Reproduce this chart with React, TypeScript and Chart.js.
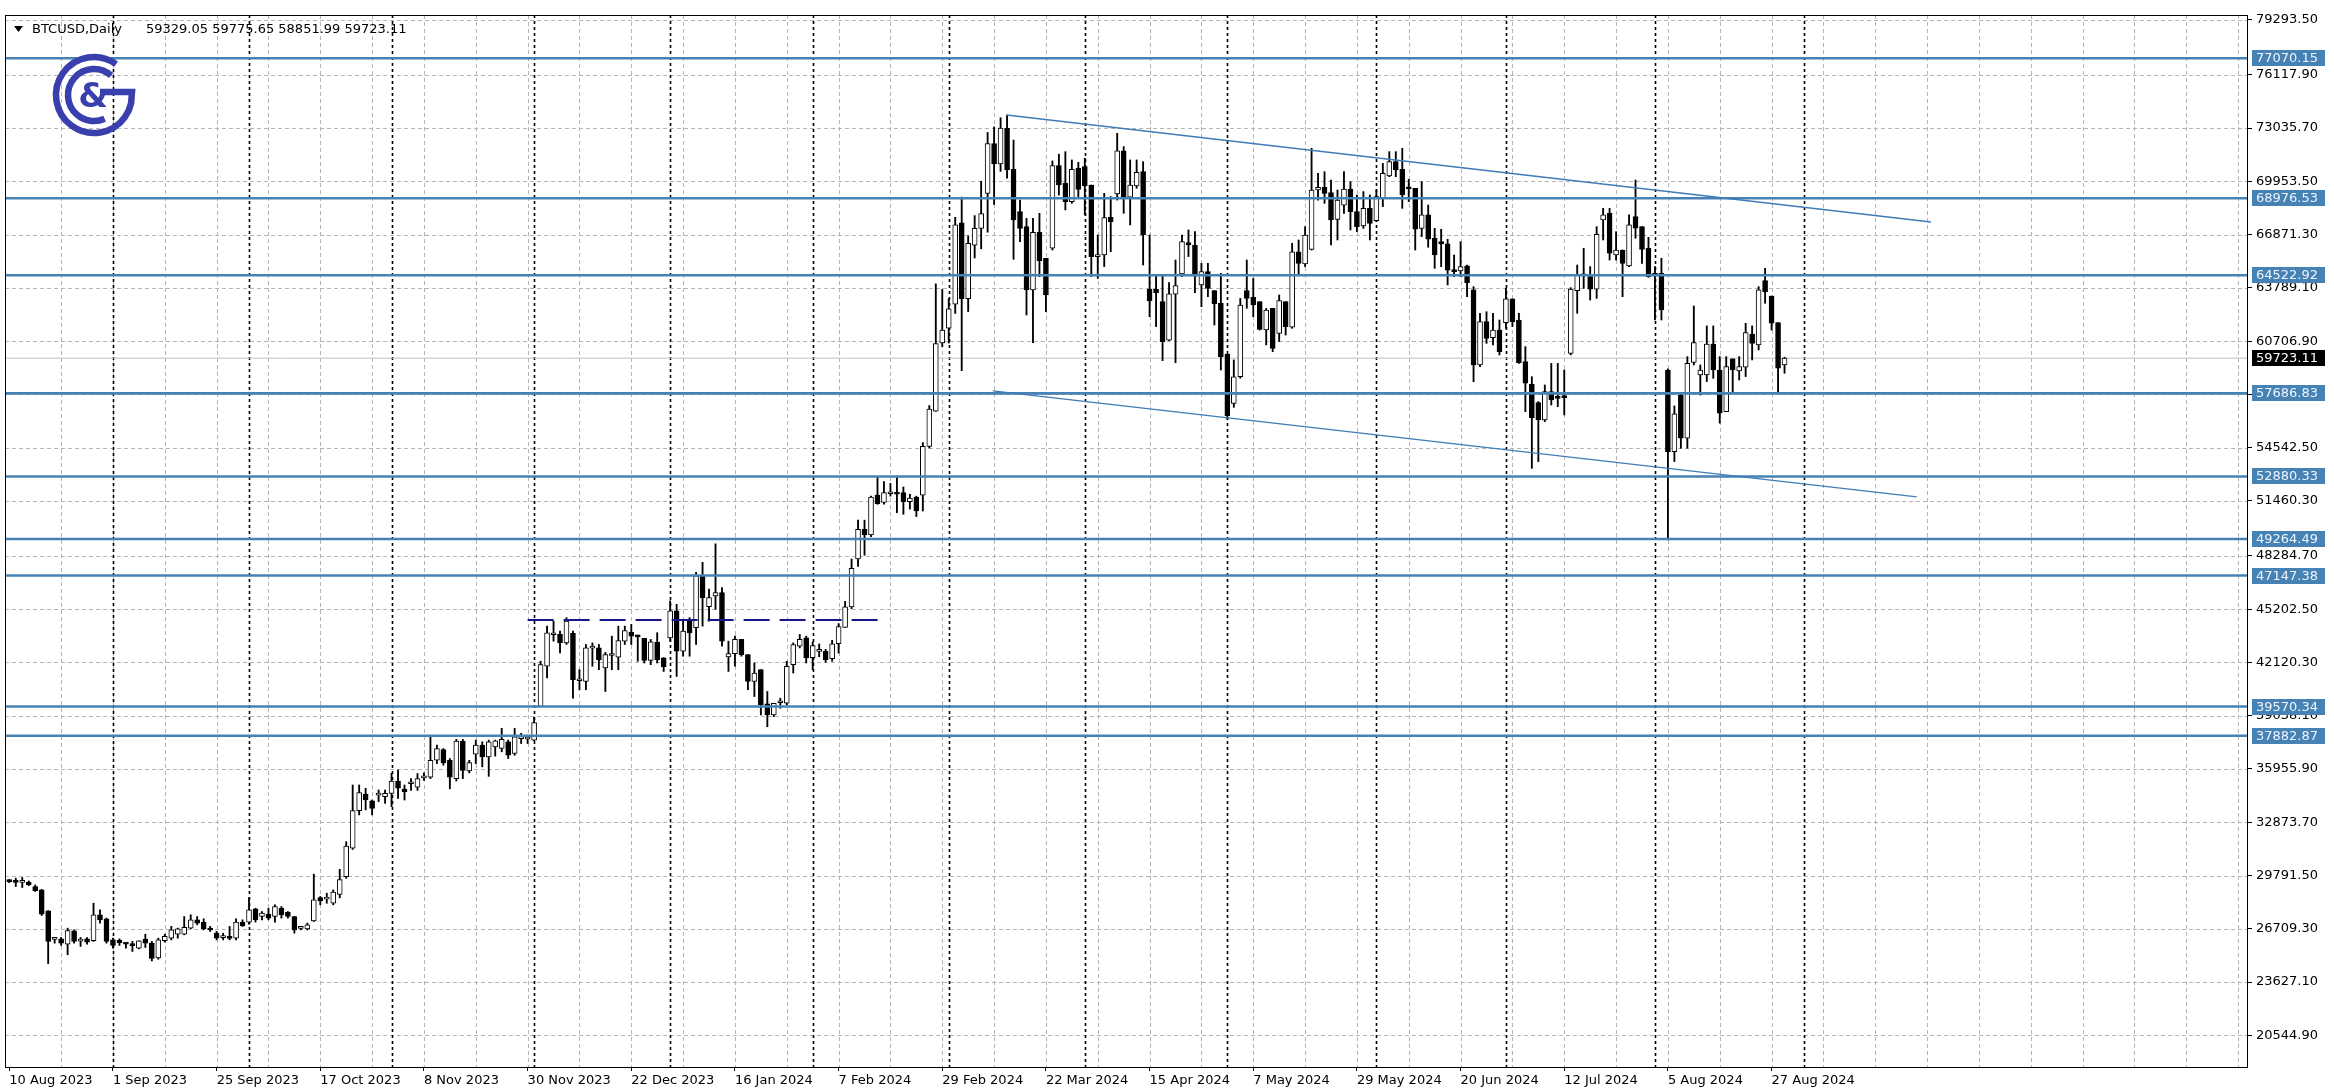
import { useEffect, useRef } from 'react';
import { Chart, registerables } from 'chart.js';

Chart.register(...registerables);

// ---------- data (daily BTCUSD bars, weekdays only, 10 Aug 2023 .. 29 Aug 2024) ----------
const OPEN = [
  29460, 29420, 29400, 29410, 29160, 28960, 27750, 26100, 26130, 25820,
  26590, 26000, 26130, 26020, 27520, 27290, 26070, 26050, 25840, 25760,
  25590, 26110, 25880, 25020, 26020, 26170, 26400, 26400, 26750, 27230,
  27100, 26660, 26460, 26200, 26180, 26170, 27080, 27100, 27870, 27420,
  27560, 27420, 27900, 27670, 27420, 26740, 26710, 27170, 28520, 28430,
  28190, 28700, 29730, 31370, 33550, 34510, 34120, 34440, 34360, 34550,
  35260, 34800, 35100, 34910, 35440, 35490, 36460, 37080, 36460, 35400,
  37570, 35840, 36810, 37340, 36660, 37240, 37140, 37530, 36850, 37710,
  37680, 37630, 39570, 41900, 43720, 43740, 43250, 43800, 41060, 41020,
  42950, 42960, 41800, 42520, 42420, 43350, 43870, 43680, 43510, 42230,
  43290, 42380, 43540, 45100, 42770, 44510, 44130, 47130, 45350, 45970,
  46160, 42440, 42630, 43450, 42570, 41020, 41700, 39720, 39080, 39790,
  39760, 41990, 43060, 43540, 42400, 42760, 42770, 42340, 43200, 44150,
  45330, 48110, 49820, 49500, 51800, 51380, 51880, 51950, 51950, 51420,
  51680, 51800, 54620, 56650, 60600, 61460, 62850, 67550, 63170, 66260,
  67230, 69250, 72140, 70960, 73020, 70650, 68200, 67330, 63670, 67000,
  65500, 66080, 70860, 69840, 68780, 70710, 70800, 69740, 65600, 65690,
  67870, 69220, 71710, 69030, 69680, 70510, 63720, 63710, 62990, 60770,
  63420, 64590, 66410, 66270, 63960, 64730, 63630, 62900, 59960, 57110,
  58650, 63630, 63240, 62990, 61350, 62610, 61160, 62990, 61510, 65880,
  65170, 66020, 69450, 69610, 69300, 67750, 68580, 69510, 68200, 67370,
  68390, 67680, 68970, 70260, 71090, 70650, 69640, 69550, 67230, 68010,
  66660, 66460, 66330, 64820, 64770, 65060, 63670, 59330, 61840, 60910,
  61350, 61780, 63150, 61930, 59520, 58210, 57150, 56150, 57790, 57500,
  57540, 60000, 63630, 64530, 64440, 63720, 67720, 68100, 65690, 65980,
  65060, 67910, 67330, 66080, 64480, 64630, 59040, 54320, 57590, 55090,
  59470, 58750, 58750, 60540, 59040, 56630, 59680, 58990, 59200, 61120,
  60490, 64210, 63320, 61780, 59329.05,
];
const HIGH = [
  29560, 29640, 29680, 29480, 29250, 28990, 27760, 26210, 26210, 26750,
  26650, 26210, 26210, 28190, 27810, 27330, 26170, 26130, 25880, 25980,
  26020, 26400, 25980, 26170, 26400, 26850, 26750, 27420, 27520, 27420,
  27290, 26850, 26560, 26460, 26850, 27290, 27230, 28520, 27900, 27710,
  27900, 28100, 28000, 27710, 27430, 26850, 27040, 29870, 28580, 28770,
  28960, 30150, 31750, 35030, 35030, 34840, 34160, 34740, 34740, 35710,
  35900, 35030, 35400, 35690, 35730, 37820, 37340, 37140, 36560, 37670,
  37670, 36460, 37630, 37530, 37630, 37630, 38310, 37630, 38310, 38020,
  37860, 38950, 42190, 44220, 44510, 43930, 44710, 43930, 41700, 43160,
  43250, 43160, 42700, 43640, 44220, 44220, 44320, 43700, 43510, 43450,
  43840, 42400, 45680, 45480, 44570, 44710, 47330, 47910, 46360, 48980,
  46450, 43350, 43640, 43450, 42570, 42090, 41700, 40440, 39760, 40050,
  42190, 43250, 43740, 43640, 43300, 43190, 42880, 43400, 44370, 45650,
  48100, 50350, 50350, 51740, 52870, 52590, 52480, 52900, 52270, 51850,
  51740, 54840, 56980, 64020, 63700, 63160, 67870, 69040, 66800, 67970,
  69960, 72780, 73100, 73630, 73790, 72340, 68870, 67810, 67810, 68100,
  65500, 71130, 71520, 71670, 71190, 71050, 71280, 69740, 66850, 69260,
  69070, 72730, 71960, 71190, 71190, 71090, 66850, 64530, 64480, 64090,
  65400, 66850, 67140, 67040, 65210, 65210, 63630, 64630, 59960, 59620,
  63180, 65400, 64340, 62990, 62600, 62610, 63380, 62990, 66370, 66560,
  67330, 71860, 70420, 70510, 70030, 69450, 70510, 69930, 69160, 69360,
  69160, 69450, 70990, 71670, 71670, 71860, 70070, 69550, 69930, 68580,
  67230, 67180, 66600, 65690, 66460, 65110, 63860, 62320, 62410, 62320,
  61930, 63760, 63150, 62320, 60390, 58650, 57210, 58170, 59420, 59420,
  59040, 63800, 65110, 66080, 65020, 67330, 68390, 68390, 67040, 65980,
  68010, 70030, 67330, 66710, 65020, 65500, 59100, 56960, 57690, 59810,
  62740, 59330, 61590, 61590, 59810, 59810, 59680, 59810, 61740, 61590,
  63860, 64920, 63320, 61780, 59775.65,
];
const LOW = [
  29380, 29160, 29100, 29210, 28870, 27480, 24700, 25880, 25750, 25210,
  25880, 25690, 25820, 25980, 27040, 25880, 25590, 25750, 25590, 25400,
  25550, 25630, 24850, 24950, 25940, 26070, 26170, 26360, 26710, 26940,
  26650, 26560, 26070, 26070, 26070, 26070, 26850, 26980, 27100, 27230,
  27230, 27100, 27330, 27330, 26460, 26650, 26650, 27130, 28100, 28190,
  28100, 28500, 29630, 31300, 33300, 33590, 33300, 34070, 33970, 33780,
  34260, 34160, 34720, 34720, 35300, 35400, 36270, 36170, 34810, 35260,
  35400, 35730, 36270, 36080, 35530, 36700, 36950, 36560, 36750, 37430,
  37430, 37590, 39570, 41220, 43350, 42670, 43160, 40050, 40540, 40540,
  41900, 41700, 40440, 41700, 41700, 43160, 43160, 42190, 42090, 41990,
  42090, 41600, 43350, 41310, 42480, 42480, 43160, 44220, 44510, 45190,
  43060, 41600, 41900, 42480, 40540, 40150, 39080, 38400, 38990, 39470,
  39660, 41510, 42960, 42090, 41700, 42450, 42130, 42190, 42660, 44150,
  45230, 47680, 48320, 49390, 51270, 51270, 51740, 50780, 50690, 50990,
  50560, 50880, 54520, 56650, 60390, 60600, 62310, 59000, 62420, 65520,
  66050, 67010, 68610, 70530, 70130, 65440, 66460, 62220, 60620, 64440,
  62410, 65980, 69160, 68300, 68680, 69070, 68010, 64440, 64340, 65020,
  65880, 68870, 68100, 67430, 69550, 65110, 62120, 61550, 59580, 60740,
  59460, 64440, 65600, 63510, 62700, 63280, 61640, 59040, 56200, 56880,
  58560, 62610, 62120, 61350, 60490, 60100, 60680, 61060, 61450, 64530,
  65020, 65980, 68870, 68680, 66270, 66560, 68100, 67140, 67040, 67230,
  66560, 67620, 68490, 70220, 70220, 68390, 68780, 65980, 66750, 66140,
  64920, 65020, 63960, 64440, 64440, 63280, 58360, 59230, 60580, 60490,
  59910, 61450, 61550, 59420, 56630, 53350, 53740, 56050, 57010, 56920,
  56440, 59910, 62320, 63760, 63090, 63180, 66560, 65400, 65400, 63280,
  65020, 66660, 65210, 64400, 61930, 61930, 49210, 53740, 54510, 54510,
  59330, 57590, 58370, 58560, 55960, 56630, 57690, 58460, 58660, 59620,
  60200, 62900, 61350, 57790, 58851.99,
];
const CLOSE = [
  29440, 29400, 29410, 29250, 28910, 27560, 25980, 26120, 25880, 26610,
  25980, 26030, 25940, 27520, 27230, 25980, 25750, 25900, 25820, 25740,
  26020, 25880, 25000, 26070, 26270, 26650, 26710, 26790, 27230, 27040,
  26710, 26640, 26170, 26220, 26160, 27100, 26880, 27810, 27230, 27620,
  27330, 28000, 27520, 27420, 26650, 26760, 26940, 28390, 28330, 28450,
  28830, 29560, 31500, 33550, 34590, 34160, 33680, 34460, 34550, 35260,
  34840, 34650, 35110, 35400, 35460, 36460, 37140, 36310, 35490, 37570,
  35880, 36330, 37340, 36660, 37530, 37590, 37670, 36750, 37820, 37740,
  37690, 38640, 41990, 43840, 43750, 43250, 44510, 41120, 41090, 42960,
  42970, 42280, 42570, 42530, 43390, 43970, 43640, 43600, 42230, 43310,
  42280, 41860, 45100, 42770, 43930, 43840, 47130, 45870, 45870, 46160,
  43350, 42630, 43450, 42570, 41020, 41510, 39660, 39080, 39760, 39810,
  41900, 43160, 43450, 42380, 43090, 42770, 42280, 43200, 44200, 45330,
  47570, 49820, 49500, 51680, 51310, 51950, 51900, 51850, 51420, 51630,
  50890, 54620, 56770, 60560, 61350, 62570, 67440, 63170, 66370, 67230,
  68080, 72140, 70960, 73040, 70610, 67720, 67230, 63670, 67000, 65360,
  63380, 70860, 69740, 68780, 70650, 69490, 69680, 65600, 65690, 67850,
  67620, 71710, 69010, 69740, 70470, 66850, 63030, 63510, 60680, 63440,
  63920, 66460, 66270, 64480, 64730, 63760, 62860, 59810, 56400, 58650,
  62800, 63180, 62800, 61390, 62510, 60290, 63050, 61550, 65880, 65210,
  66850, 69450, 69610, 69260, 67720, 68870, 69510, 68200, 67330, 68390,
  67520, 69070, 70420, 71090, 70610, 69160, 69510, 67180, 68010, 66600,
  65690, 66330, 64820, 64730, 65020, 64090, 59330, 61840, 60870, 61350,
  60100, 63150, 61840, 59460, 58270, 56280, 56150, 57790, 57300, 57400,
  57440, 63720, 64530, 64480, 63720, 66890, 68010, 65790, 65980, 65210,
  67430, 67240, 66020, 64440, 64630, 62510, 54320, 56500, 55090, 59430,
  60620, 59040, 60540, 59040, 56540, 59230, 59040, 59230, 61200, 60580,
  63670, 63570, 61740, 59140, 59723.11,
];

// x-axis labels, one every LABEL_STEP bars starting at bar 0
const X_LABELS = [
  '10 Aug 2023', '1 Sep 2023', '25 Sep 2023', '17 Oct 2023', '8 Nov 2023', '30 Nov 2023',
  '22 Dec 2023', '16 Jan 2024', '7 Feb 2024', '29 Feb 2024', '22 Mar 2024', '15 Apr 2024',
  '7 May 2024', '29 May 2024', '20 Jun 2024', '12 Jul 2024', '5 Aug 2024', '27 Aug 2024',
];
const LABEL_STEP = 16;
const GRID_STEP = 8;
// first bar of each month (period separators)
const MONTH_STARTS = [16, 37, 59, 81, 102, 124, 145, 166, 188, 211, 231, 254, 277];

const Y_TICKS = [
  79293.5, 76117.9, 73035.7, 69953.5, 66871.3, 63789.1, 60706.9, 57624.7, 54542.5, 51460.3,
  48284.7, 45202.5, 42120.3, 39038.1, 35955.9, 32873.7, 29791.5, 26709.3, 23627.1, 20544.9,
];

const LEVELS = [77070.15, 68976.53, 64522.92, 57686.83, 52880.33, 49264.49, 47147.38, 39570.34, 37882.87];
const LAST_PRICE = 59723.11;
const UPPER_CHANNEL = [{ x: 153.9, y: 73790 }, { x: 296.6, y: 67600 }];
const LOWER_CHANNEL = [{ x: 151.8, y: 57830 }, { x: 294.4, y: 51700 }];
const RANGE_TOP = [{ x: 80, y: 44570 }, { x: 135, y: 44570 }];

const SYMBOL = 'BTCUSD,Daily';
const HEADER_VALUES = '59329.05 59775.65 58851.99 59723.11';

// ---------- layout / style ----------
const W = 2334;
const H = 1089;
const PLOT_LEFT = 5;
const PLOT_TOP = 15;
const PLOT_RIGHT = 2247;
const PLOT_BOTTOM = 1067;
const X_MIN = -0.664;
const X_MAX = 345.38;
const Y_MAX = 79575;
const Y_MIN = 18716;
const BLUE = '#4682b4';
const FONT = '"DejaVu Sans", "Liberation Sans", sans-serif';

function drawLogo(ctx: CanvasRenderingContext2D) {
  const cx = 94;
  const cy = 95;
  const col = '#3a3fae';
  ctx.save();
  ctx.strokeStyle = col;
  ctx.fillStyle = col;
  ctx.lineWidth = 6.5;
  ctx.beginPath();
  ctx.arc(cx, cy, 38, -0.95, 0.22, true);
  ctx.lineTo(cx + 38, cy - 3);
  ctx.lineTo(cx + 6, cy - 3);
  ctx.stroke();
  ctx.beginPath();
  ctx.arc(cx, cy, 26, -0.85, 1.15, true);
  ctx.stroke();
  ctx.font = 'bold 34px ' + FONT;
  ctx.textAlign = 'center';
  ctx.textBaseline = 'middle';
  ctx.fillText('&', cx - 1, cy + 3);
  ctx.restore();
}

const overlay = {
  id: 'overlay',
  beforeDatasetsDraw(chart: any) {
    const { ctx, chartArea: a, scales } = chart;
    const x = scales.x;
    const y = scales.y;
    ctx.save();
    ctx.beginPath();
    ctx.rect(a.left, a.top, a.right - a.left, a.bottom - a.top);
    ctx.clip();
    ctx.lineWidth = 1;
    ctx.strokeStyle = '#b4b4b4';
    ctx.setLineDash([4, 3]);
    for (const v of Y_TICKS) {
      const py = Math.round(y.getPixelForValue(v)) + 0.5;
      ctx.beginPath();
      ctx.moveTo(a.left, py);
      ctx.lineTo(a.right, py);
      ctx.stroke();
    }
    for (let i = GRID_STEP; i <= X_MAX; i += GRID_STEP) {
      const px = Math.round(x.getPixelForValue(i)) + 0.5;
      ctx.beginPath();
      ctx.moveTo(px, a.top);
      ctx.lineTo(px, a.bottom);
      ctx.stroke();
    }
    ctx.strokeStyle = '#000';
    ctx.lineWidth = 1.6;
    ctx.setLineDash([3, 3]);
    for (const i of MONTH_STARTS) {
      const px = Math.round(x.getPixelForValue(i)) + 0.5;
      ctx.beginPath();
      ctx.moveTo(px, a.top);
      ctx.lineTo(px, a.bottom);
      ctx.stroke();
    }
    ctx.restore();
  },
  afterDraw(chart: any) {
    const { ctx, chartArea: a, scales } = chart;
    const y = scales.y;
    ctx.save();
    // frame
    ctx.strokeStyle = '#000';
    ctx.lineWidth = 1;
    ctx.strokeRect(a.left + 0.5, a.top + 0.5, a.right - a.left, a.bottom - a.top);
    // price boxes
    ctx.font = '13px ' + FONT;
    ctx.textBaseline = 'middle';
    ctx.textAlign = 'left';
    for (const v of LEVELS) {
      const py = Math.round(y.getPixelForValue(v));
      ctx.fillStyle = BLUE;
      ctx.fillRect(a.right + 5, py - 8, 73, 16);
      ctx.fillStyle = '#eef4ff';
      ctx.fillText(v.toFixed(2), a.right + 9, py + 1);
    }
    const lp = Math.round(y.getPixelForValue(LAST_PRICE));
    ctx.fillStyle = '#000';
    ctx.fillRect(a.right + 5, lp - 8, 73, 16);
    ctx.fillStyle = '#fff';
    ctx.fillText(LAST_PRICE.toFixed(2), a.right + 9, lp + 1);
    // header
    ctx.fillStyle = '#000';
    ctx.beginPath();
    ctx.moveTo(14, 26);
    ctx.lineTo(23, 26);
    ctx.lineTo(18.5, 32);
    ctx.closePath();
    ctx.fill();
    ctx.fillText(SYMBOL, 32, 30);
    ctx.fillText(HEADER_VALUES, 146, 30);
    ctx.restore();
    drawLogo(ctx);
  },
};

export default function App() {
  const ref = useRef<HTMLCanvasElement>(null);
  useEffect(() => {
    const canvas = ref.current;
    if (!canvas) return;
    const bodies = OPEN.map((o, i) => ({ x: i, y: [Math.min(o, CLOSE[i]), Math.max(o, CLOSE[i])] }));
    const wicks = OPEN.map((_, i) => ({ x: i, y: [LOW[i], HIGH[i]] }));
    const bodyFill = OPEN.map((o, i) => (CLOSE[i] >= o ? '#ffffff' : '#000000'));
    const levelSets = LEVELS.map((v) => ({
      type: 'line',
      data: [{ x: X_MIN, y: v }, { x: X_MAX, y: v }],
      borderColor: BLUE,
      borderWidth: 2.6,
      pointRadius: 0,
      order: -1,
    }));
    const chart = new Chart(canvas, {
      type: 'bar',
      data: {
        datasets: [
          {
            type: 'line',
            data: [{ x: X_MIN, y: LAST_PRICE }, { x: X_MAX, y: LAST_PRICE }],
            borderColor: '#c0c0c0',
            borderWidth: 1,
            pointRadius: 0,
            order: 5,
          },
          {
            data: wicks,
            backgroundColor: '#000',
            borderWidth: 0,
            barThickness: 1.2,
            grouped: false,
            minBarLength: 1,
            order: 2,
          },
          {
            data: bodies,
            backgroundColor: bodyFill,
            borderColor: '#000',
            borderWidth: 1,
            borderSkipped: false,
            barThickness: 5,
            grouped: false,
            minBarLength: 2,
            order: 1,
          },
          ...levelSets,
          {
            type: 'line',
            data: UPPER_CHANNEL,
            borderColor: '#3f7bb5',
            borderWidth: 1.3,
            pointRadius: 0,
            order: -2,
          },
          {
            type: 'line',
            data: LOWER_CHANNEL,
            borderColor: '#3f7bb5',
            borderWidth: 1.3,
            pointRadius: 0,
            order: -2,
          },
          {
            type: 'line',
            data: RANGE_TOP,
            borderColor: '#16168c',
            borderWidth: 2,
            borderDash: [26, 10],
            pointRadius: 0,
            order: -2,
          },
        ] as any,
      },
      options: {
        responsive: false,
        animation: false,
        devicePixelRatio: 1,
        events: [],
        layout: { padding: { left: PLOT_LEFT, top: PLOT_TOP, right: 0, bottom: 0 } },
        plugins: { legend: { display: false }, tooltip: { enabled: false } },
        scales: {
          x: {
            type: 'linear',
            min: X_MIN,
            max: X_MAX,
            offset: false,
            afterBuildTicks: (s: any) => {
              s.ticks = X_LABELS.map((_, k) => ({ value: k * LABEL_STEP }));
            },
            afterFit: (s: any) => {
              s.height = H - PLOT_BOTTOM;
            },
            ticks: {
              autoSkip: false,
              maxRotation: 0,
              align: 'start',
              padding: 2,
              color: '#000',
              font: { family: FONT, size: 13 },
              callback: (_v: any, i: number) => X_LABELS[i],
            },
            grid: { display: true, drawOnChartArea: false, offset: false, tickLength: 4, tickColor: '#000' },
            border: { display: true, color: '#000' },
          },
          y: {
            type: 'linear',
            position: 'right',
            min: Y_MIN,
            max: Y_MAX,
            afterBuildTicks: (s: any) => {
              s.ticks = Y_TICKS.map((v) => ({ value: v }));
            },
            afterFit: (s: any) => {
              s.width = W - PLOT_RIGHT;
            },
            ticks: {
              autoSkip: false,
              crossAlign: 'near',
              padding: 4,
              color: '#000',
              font: { family: FONT, size: 13 },
              callback: (v: any) => Number(v).toFixed(2),
            },
            grid: { display: true, drawOnChartArea: false, tickLength: 5, tickColor: '#000' },
            border: { display: true, color: '#000' },
          },
        },
      } as any,
      plugins: [overlay],
    });
    return () => chart.destroy();
  }, []);
  return (
    <div style={{ position: 'fixed', left: 0, top: 0, width: W, height: H, background: '#fff' }}>
      <canvas ref={ref} width={W} height={H} style={{ display: 'block' }} />
    </div>
  );
}
